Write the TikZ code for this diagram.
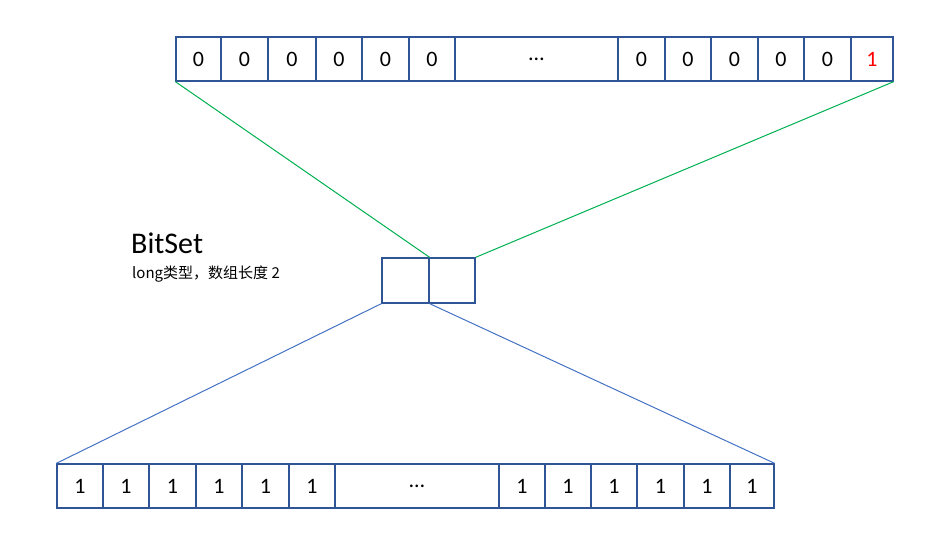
\documentclass[tikz,border=0pt]{standalone}
\usepackage{fontspec}
\setmainfont{Carlito}
\newfontfamily\cjk{Noto Sans CJK SC}
\usetikzlibrary{calc}
\definecolor{cellblue}{HTML}{2F5597}
\definecolor{linegreen}{HTML}{00B050}
\definecolor{lineblue}{HTML}{4472C4}
\tikzset{
	cell/.style = {draw = cellblue, line width = 1.3pt, minimum height = 44pt, inner sep = 0pt, font = \fontsize{22}{22}\selectfont}
}
\begin{document}
\begin{tikzpicture}[x = 1pt, y = -1pt]
	\useasboundingbox (0,0) rectangle (944,543);

	% top row
	\foreach \i/\a/\b/\t in {1/176/221/0, 2/221/268/0, 3/268/316/0, 4/316/362/0, 5/362/409/0, 6/409/455/0, 7/455/618/\dots, 8/618/665/0, 9/665/711/0, 10/711/758/0, 11/758/804/0, 12/804/851/0}
	{
		\node [cell, minimum width = \b pt - \a pt] (t\i) at ({(\a+\b)/2}, 59) {\t};
	}
	\node [cell, minimum width = 42pt, text = red] (t13) at (872, 59) {1};

	% bottom row
	\foreach \i/\a/\b/\t in {1/57/103/1, 2/103/149/1, 3/149/196/1, 4/196/242/1, 5/242/289/1, 6/289/335/1, 7/335/499/\dots, 8/499/545/1, 9/545/591/1, 10/591/637/1, 11/637/684/1, 12/684/730/1, 13/730/774/1}
	{
		\node [cell, minimum width = \b pt - \a pt] (b\i) at ({(\a+\b)/2}, 486) {\t};
	}

	% bitset
	\node [cell, minimum width = 47pt, minimum height = 45pt] (m1) at (405.5, 280.5) {};
	\node [cell, minimum width = 46pt, minimum height = 45pt] (m2) at (452, 280.5) {};

	\node [anchor = base west, inner sep = 0pt, font = \fontsize{30}{30}\selectfont] (title) at (131, 253) {BitSet};
	\node [anchor = base west, inner sep = 0pt, font = \cjk\fontsize{15}{15}\selectfont] (sub) at (132, 278) {long类型，数组长度 2};

	\begin{scope}[line width = 1pt]
		\draw [linegreen] (t1.south west) -- (m1.north east);
		\draw [linegreen] (t13.south east) -- (m2.north east);
		\draw [lineblue] (m1.south west) -- (b1.north west);
		\draw [lineblue] (m1.south east) -- (b13.north east);
	\end{scope}
\end{tikzpicture}
\end{document}
